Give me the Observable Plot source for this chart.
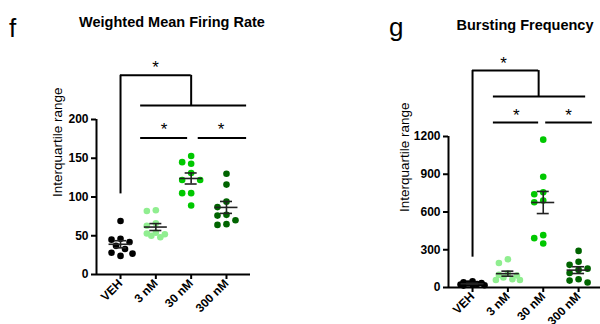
<!DOCTYPE html>
<html><head><meta charset="utf-8">
<script src="https://cdn.jsdelivr.net/npm/d3@7"></script>
<script src="https://cdn.jsdelivr.net/npm/@observablehq/plot@0.6"></script>
<style>
body{margin:0;background:#fff;}
#wrap{position:relative;width:600px;height:324px;overflow:hidden;font-family:"Liberation Sans",Arial,sans-serif;color:#000;}
.panel{position:absolute;top:0;}
.title{position:absolute;font-weight:bold;font-size:14.5px;line-height:1;transform:translate(-50%,-50%);white-space:nowrap;}
.letter{position:absolute;font-size:26px;line-height:26px;}
</style></head><body>
<div id="wrap"></div>
<script>
// ---- data ----
const groups = ["VEH", "3 nM", "30 nM", "300 nM"];
const groupColors = ["#000000", "#90EE90", "#00C800", "#006400"];

const firingVEH = [69, 46, 45, 42, 37, 33, 28, 27, 24];
const firing3 = [83, 82, 66, 63, 54, 53, 52, 50, 48];
const firing30 = [153, 145, 143, 131, 122, 122, 105, 105, 89];
const firing300 = [130, 116, 94, 87, 77, 76, 70, 65, 64];
const firingTicks = [0, 50, 100, 150, 200];

const burstVEH = [50, 42, 36, 32, 27, 24, 21, 18, 15];
const burst3 = [225, 195, 110, 100, 95, 80, 65, 60, 60];
const burst30 = [1175, 880, 757, 741, 691, 678, 416, 392, 350];
const burst300 = [291, 205, 180, 150, 140, 115, 66, 55, 40];
const burstTicks = [0, 300, 600, 900, 1200];

// significance brackets (group index positions, data-unit levels)
const firingBrackets = {
  h: [{x1: 0, x2: 2.0, y: 257}, {x1: 0.57, x2: 3.57, y: 218}, {x1: 0.57, x2: 1.9, y: 176}, {x1: 2.2, x2: 3.57, y: 176}],
  v: [{x: 0, y1: 104, y2: 257}, {x: 2.0, y1: 218, y2: 257}],
  stars: [{x: 0.99, y: 273}, {x: 1.23, y: 193}, {x: 2.85, y: 193}]
};
const burstBrackets = {
  h: [{x1: 0, x2: 1.87, y: 1724}, {x1: 0.59, x2: 3.2, y: 1518}, {x1: 0.59, x2: 1.87, y: 1311}, {x1: 2.07, x2: 3.39, y: 1311}],
  v: [{x: 0, y1: 241, y2: 1724}, {x: 1.87, y1: 1518, y2: 1724}],
  stars: [{x: 0.88, y: 1820}, {x: 1.24, y: 1407}, {x: 2.72, y: 1407}]
};

// ---- helpers ----
function dodge(values, pxPerUnit, pxPerIndex) {
  const order = values.map((v, i) => i).sort((a, b) => values[b] - values[a]);
  const placed = [];
  const offs = new Array(values.length);
  const cands = [0, -9, 9];
  const fallback = [0, -4.5, 4.5, -9, 9, -12, 12];
  for (const i of order) {
    const py = values[i] * pxPerUnit;
    let chosen = null;
    for (const c of cands) {
      if (placed.every(p => Math.hypot(p.x - c, p.y - py) >= 7.5)) { chosen = c; break; }
    }
    if (chosen === null) {
      let best = -1;
      for (const c of fallback) {
        const m = d3.min(placed, p => Math.hypot(p.x - c, p.y - py));
        if (m > best) { best = m; chosen = c; }
      }
    }
    offs[i] = chosen;
    placed.push({x: chosen, y: py});
  }
  return offs.map(o => o / pxPerIndex);
}

function panel(cfg) {
  const width = 300, height = 324;
  const innerW = width - cfg.marginLeft - cfg.marginRight;
  const innerH = height - cfg.marginTop - cfg.marginBottom;
  const pxPerIndex = innerW / (cfg.xDomain[1] - cfg.xDomain[0]);
  const pxPerUnit = innerH / (cfg.yDomain[1] - cfg.yDomain[0]);
  const rows = [];
  cfg.series.forEach((vals, gi) => {
    const offs = dodge(vals, pxPerUnit, pxPerIndex);
    vals.forEach((v, k) => rows.push({g: gi, x: gi + offs[k], y: v, c: groupColors[gi]}));
  });
  const stats = cfg.series.map((vals, gi) => {
    const m = d3.mean(vals), s = d3.deviation(vals) / Math.sqrt(vals.length);
    return {g: gi, mean: m, lo: m - s, hi: m + s};
  });
  const lw = 11.5 / pxPerIndex, cw = 6 / pxPerIndex;
  return Plot.plot({
    width, height,
    marginLeft: cfg.marginLeft, marginRight: cfg.marginRight,
    marginTop: cfg.marginTop, marginBottom: cfg.marginBottom,
    x: {domain: cfg.xDomain},
    y: {domain: cfg.yDomain},
    color: {type: "identity"},
    style: {fontFamily: "'Liberation Sans', Arial, sans-serif", fontSize: "12px", fontWeight: "bold", overflow: "visible", background: "transparent"},
    marks: [
      Plot.ruleY([0], {strokeWidth: 2}),
      Plot.ruleX([cfg.xDomain[0]], {strokeWidth: 2}),
      Plot.axisY({ticks: cfg.ticks, tickFormat: d3.format("d"), tickSize: 5, tickPadding: 3, strokeWidth: 2, label: null}),
      Plot.axisX({ticks: [0, 1, 2, 3], tickFormat: i => groups[i], tickRotate: -45, tickSize: 5, tickPadding: 2, strokeWidth: 2, label: null}),
      Plot.text(["Interquartile range"], {frameAnchor: "left", rotate: -90, dx: -cfg.labelOffset, fontSize: 13.5, fontWeight: "normal"}),
      Plot.dot(rows, {x: "x", y: "y", r: 3.3, fill: "c", stroke: null}),
      Plot.ruleY(stats, {x1: d => d.g - lw, x2: d => d.g + lw, y: "mean", stroke: "#222", strokeWidth: 1.6}),
      Plot.ruleY(stats, {x1: d => d.g - cw, x2: d => d.g + cw, y: "lo", stroke: "#222", strokeWidth: 1.6}),
      Plot.ruleY(stats, {x1: d => d.g - cw, x2: d => d.g + cw, y: "hi", stroke: "#222", strokeWidth: 1.6}),
      Plot.ruleX(stats, {x: "g", y1: "lo", y2: "hi", stroke: "#222", strokeWidth: 1.6}),
      Plot.ruleY(cfg.brackets.h, {x1: "x1", x2: "x2", y: "y", strokeWidth: 2}),
      Plot.ruleX(cfg.brackets.v, {x: "x", y1: "y1", y2: "y2", strokeWidth: 2}),
      Plot.text(cfg.brackets.stars, {x: "x", y: "y", text: () => "*", fontSize: 17, fontWeight: "normal", dy: 5})
    ]
  });
}

const wrap = document.getElementById("wrap");

function addPanel(left, cfg) {
  const p = panel(cfg);
  p.classList.add("panel");
  p.style.left = left + "px";
  wrap.appendChild(p);
  const t = document.createElement("div");
  t.className = "title"; t.textContent = cfg.title;
  t.style.left = cfg.titleX + "px"; t.style.top = cfg.titleY + "px";
  wrap.appendChild(t);
  const l = document.createElement("div");
  l.className = "letter"; l.textContent = cfg.letter;
  l.style.left = cfg.letterX + "px"; l.style.top = cfg.letterY + "px";
  wrap.appendChild(l);
}

addPanel(0, {
  title: "Weighted Mean Firing Rate", titleX: 172, titleY: 22,
  letter: "f", letterX: 9, letterY: 15,
  series: [firingVEH, firing3, firing30, firing300],
  ticks: firingTicks, yDomain: [0, 200], xDomain: [-0.68, 3.68],
  marginLeft: 96, marginRight: 50, marginTop: 119, marginBottom: 50,
  labelOffset: 39, brackets: firingBrackets
});
addPanel(300, {
  title: "Bursting Frequency", titleX: 525, titleY: 25,
  letter: "g", letterX: 389, letterY: 14,
  series: [burstVEH, burst3, burst30, burst300],
  ticks: burstTicks, yDomain: [0, 1200], xDomain: [-0.68, 3.62],
  marginLeft: 148, marginRight: 0, marginTop: 136, marginBottom: 37,
  labelOffset: 44, brackets: burstBrackets
});
</script>
</body></html>
